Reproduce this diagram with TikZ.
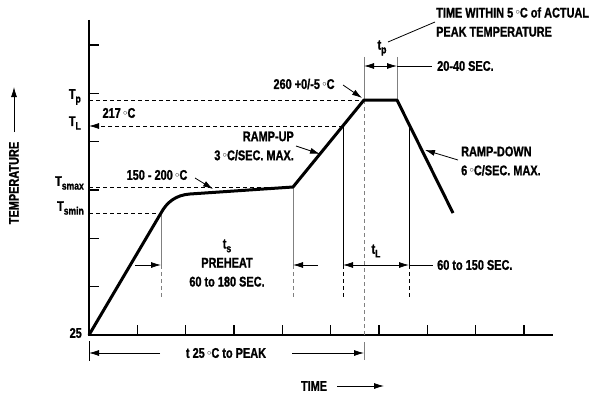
\documentclass[tikz,border=0pt]{standalone}
\usepackage{fontspec}
\newfontfamily\lblfont{Liberation Sans Bold}[FakeStretch=0.78, FakeBold=1.2]
\usepackage{graphicx}
\usetikzlibrary{arrows.meta}
\newcommand{\dgC}{\,\raisebox{0.35ex}{\scalebox{0.6}{$\circ$}}C}
\newcommand{\lowsub}[1]{\raisebox{-0.5ex}{\fontsize{11}{11}\selectfont #1}}

\tikzset{
  lbl/.style={font=\lblfont\fontsize{14}{19}\selectfont, inner sep=0pt},
  profile/.style={line width=3pt, line join=round},
  axis/.style={line width=1.4pt},
  guide/.style={line width=0.8pt, gray},
  refline/.style={line width=0.8pt, dash pattern=on 4pt off 3pt},
  tip/.style={-{Latex[length=10pt,width=6pt]}},
  tips/.style={{Latex[length=10pt,width=6pt]}-{Latex[length=10pt,width=6pt]}},
}

\begin{document}
\begin{tikzpicture}[x=1pt,y=-1pt]
    \useasboundingbox (0,0) rectangle (594,396);
    % Profile points
    \coordinate (o)    at (89,335);
    \coordinate (ytop) at (89,20);
    \coordinate (xend) at (553,335);
    \coordinate (smin) at (161,213);
    \coordinate (smax) at (293,187);
    \coordinate (pk1)  at (364,100);
    \coordinate (pk2)  at (397,100);
    \coordinate (dn)   at (453,213);
    \coordinate (Lup)  at (343,126);
    \coordinate (Ldn)  at (409,126);
    \coordinate (ar)   at (0,265);
    \coordinate (arend) at (0,297);
    \coordinate (tpa)  at (364,57);
    \coordinate (tpb)  at (397,57);
    \coordinate (tpar) at (0,66);
    \coordinate (tsa)  at (135,265);
    \coordinate (tsb)  at (318,265);
    \coordinate (tLe)  at (433,265);
    \coordinate (tpe)  at (432,66);
    \coordinate (pka)  at (160,353);
    \coordinate (pkb)  at (292,353);
    % Axes and ticks
    \draw[axis] (ytop) -- (o) -- (xend);
    \foreach \k in {1,...,9}
        \draw[axis] (89+48.33*\k,335) -- ++(0,-10);
    \foreach \k in {1,...,6}
        \draw[axis] (89,335-48.33*\k) -- ++(10,0);
    % Reference levels
    \draw[refline] (o |- pk1) -- (pk1);
    \draw[refline, tip] (Lup) -- (o |- Lup);
    \draw[refline] (o |- smax) -- (smax);
    \draw[refline] (o |- smin) -- (smin);
    \draw[refline, gray] (pk1) -- (pk1 |- o);
    \draw[guide] (364,342) -- (364,360);
    % Time windows
    \foreach \p/\c in {smin/gray, smax/gray, Lup/black, Ldn/black} {
        \draw[guide, \c] (\p) -- (\p |- ar);
        \draw[guide, \c, dash pattern=on 4pt off 3pt] (\p |- ar) -- (\p |- arend);
    }
    \draw[guide] (tpa) -- (pk1);
    \draw[guide] (tpb) -- (pk2);
    \draw[line width=0.8pt, tip] (tsa) -- (smin |- ar);
    \draw[line width=0.8pt, tip] (tsb) -- (smax |- ar);
    \draw[line width=0.8pt, tips] (Lup |- ar) -- (Ldn |- ar);
    \draw[line width=0.8pt] (Ldn |- ar) -- (tLe);
    \draw[line width=0.8pt, tips] (tpa |- tpar) -- (tpb |- tpar);
    \draw[line width=0.8pt] (tpb |- tpar) -- (tpe);
    \draw[line width=0.8pt] (89,341) -- (89,361);
    \draw[line width=0.8pt, tip] (pka) -- (o |- pka);
    \draw[line width=0.8pt, tip] (pkb) -- (364,353);
    % Profile
    \draw[profile] (o) -- (smin) .. controls (167,202) and (176,195) .. (190,194)
        -- (smax) -- (pk1) -- (pk2) -- (dn);
    % Axis labels
    \node[lbl, anchor=east] (Tp)    at (81,97)  {T\lowsub{p}};
    \node[lbl, anchor=east] (TL)    at (81,123) {T\lowsub{L}};
    \node[lbl, anchor=east] (Tsmax) at (84,183) {T\lowsub{smax}};
    \node[lbl, anchor=east] (Tsmin) at (84,208) {T\lowsub{smin}};
    \node[lbl, anchor=east] (t25)   at (82,333) {25};
    \node[lbl, rotate=90] (temp) at (14,183) {TEMPERATURE};
    \draw[line width=0.8pt, tip] (14,132) -- (14,87);
    \node[lbl] (time) at (314,386) {TIME};
    \draw[line width=0.8pt, tip] (337,386) -- (384,386);
    % Annotations
    \node[lbl] (l217)  at (119,113) {217\dgC};
    \node[lbl] (l150)  at (157,175) {150 - 200\dgC};
    \draw[line width=0.8pt, tip] (195,178) -- (213,189);
    \node[lbl, anchor=east, align=right] (rup) at (294,146) {RAMP-UP\\3\dgC/SEC. MAX.};
    \draw[line width=0.8pt, tip] (296,146) -- (320,154);
    \node[lbl] (l260)  at (304,84) {260 +0/-5\dgC};
    \draw[line width=0.8pt, tip] (343,85) -- (362,98);
    \node[lbl, anchor=west, align=left] (rdn) at (461,161) {RAMP-DOWN\\6\dgC/SEC. MAX.};
    \draw[line width=0.8pt, tip] (458,160) -- (425,150);
    \node[lbl, align=center] (ts) at (227,263) {t\lowsub{s}\\PREHEAT\\60 to 180 SEC.};
    \node[lbl] (tL)    at (376,251) {t\lowsub{L}};
    \node[lbl, anchor=west] (l60) at (437,265) {60 to 150 SEC.};
    \node[lbl] (tp)    at (382,48) {t\lowsub{p}};
    \node[lbl, anchor=west] (l20) at (437,66) {20-40 SEC.};
    \node[lbl, anchor=west, align=left] (within) at (436,22) {TIME WITHIN 5\dgC{} of ACTUAL\\PEAK TEMPERATURE};
    \draw[line width=0.8pt] (388,42) -- (435,22);
    \node[lbl] (t25pk) at (226,353) {t 25\dgC{} to PEAK};
\end{tikzpicture}
\end{document}
